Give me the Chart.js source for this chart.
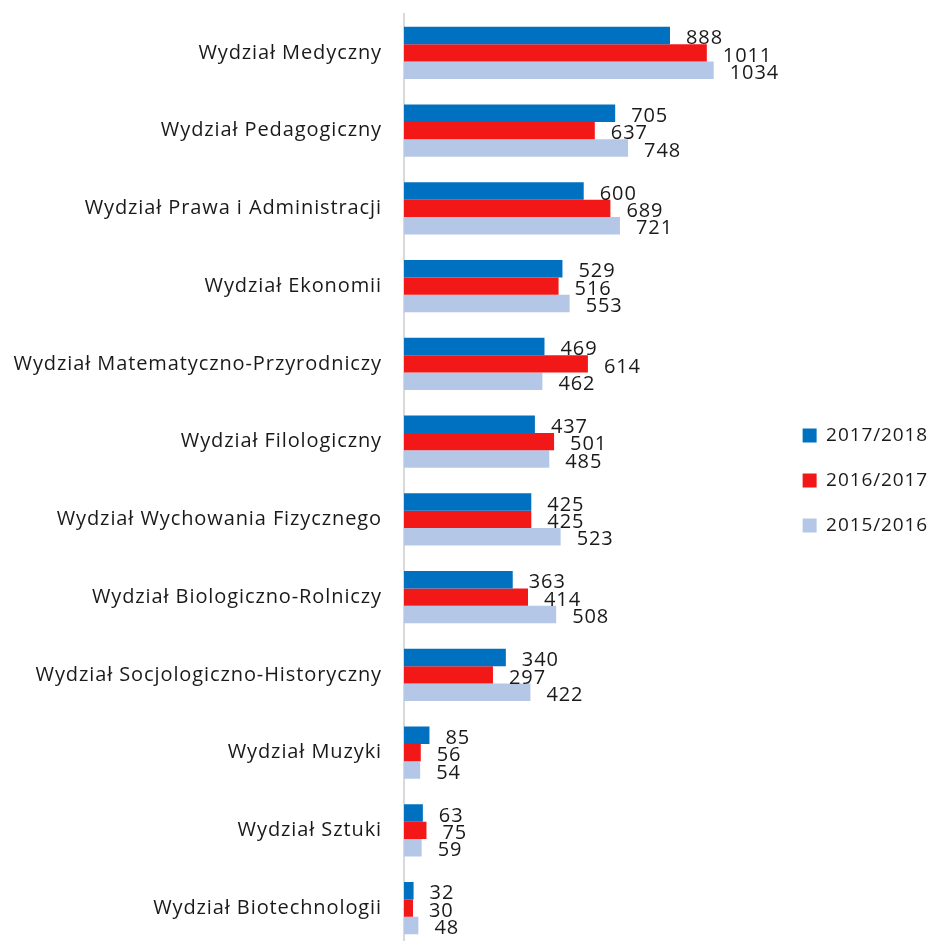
<!DOCTYPE html>
<html>
<head>
<meta charset="utf-8">
<script src="https://cdn.jsdelivr.net/npm/chart.js@4"></script>
<style>
  html, body { margin: 0; padding: 0; background: #fff; overflow: hidden; }
  #wrap { position: relative; width: 930px; height: 947px; }
</style>
</head>
<body>
<div id="wrap"><canvas id="chart"></canvas></div>
<script>
// Faculties and yearly counts
const faculties = [
  'Wydział Medyczny',
  'Wydział Pedagogiczny',
  'Wydział Prawa i Administracji',
  'Wydział Ekonomii',
  'Wydział Matematyczno-Przyrodniczy',
  'Wydział Filologiczny',
  'Wydział Wychowania Fizycznego',
  'Wydział Biologiczno-Rolniczy',
  'Wydział Socjologiczno-Historyczny',
  'Wydział Muzyki',
  'Wydział Sztuki',
  'Wydział Biotechnologii'
];
const years = ['2017/2018', '2016/2017', '2015/2016'];
const values2017 = [888, 705, 600, 529, 469, 437, 425, 363, 340, 85, 63, 32];
const values2016 = [1011, 637, 689, 516, 614, 501, 425, 414, 297, 56, 75, 30];
const values2015 = [1034, 748, 721, 553, 462, 485, 523, 508, 422, 54, 59, 48];
const colors = ['#0070c0', '#f21818', '#b4c7e7'];

const FONT = '"Open Sans", "DejaVu Sans", sans-serif';

// slightly looser letter spacing for all canvas text
const spacing = {
  id: 'spacing',
  beforeDraw(chart) { chart.ctx.letterSpacing = '0.9px'; }
};

// value labels to the right of each bar
const valueLabels = {
  id: 'valueLabels',
  afterDatasetsDraw(chart) {
    const ctx = chart.ctx;
    ctx.save();
    ctx.font = '20px ' + FONT;
    ctx.fillStyle = '#1a1a1a';
    ctx.textAlign = 'left';
    ctx.textBaseline = 'middle';
    chart.data.datasets.forEach((ds, i) => {
      chart.getDatasetMeta(i).data.forEach((bar, j) => {
        ctx.fillText(ds.data[j], bar.x + 16, bar.y + 3);
      });
    });
    ctx.restore();
  }
};

const seriesData = [values2017, values2016, values2015];

new Chart(document.getElementById('chart'), {
  type: 'bar',
  data: {
    labels: faculties,
    datasets: years.map((y, i) => ({
      label: y,
      data: seriesData[i],
      backgroundColor: colors[i],
      borderWidth: 0,
      categoryPercentage: 0.67,
      barPercentage: 1.0
    }))
  },
  options: {
    indexAxis: 'y',
    responsive: true,
    maintainAspectRatio: false,
    animation: false,
    layout: { padding: { top: 14, bottom: 0, left: 0, right: 0 } },
    scales: {
      x: {
        display: false,
        min: 0,
        max: 1244
      },
      y: {
        grid: { display: false, drawTicks: false },
        border: { display: true, color: '#d9d9d9', width: 2 },
        ticks: {
          padding: 22,
          color: '#1a1a1a',
          font: { family: FONT, size: 20 }
        },
        afterFit(scale) {
          scale.width = 404;
          scale.paddingTop = 0;
          scale.paddingBottom = 0;
        }
      }
    },
    plugins: {
      legend: {
        position: 'right',
        labels: {
          boxWidth: 14,
          boxHeight: 14,
          padding: 26,
          color: '#1a1a1a',
          font: { family: FONT, size: 19 }
        }
      },
      tooltip: { enabled: false }
    }
  },
  plugins: [spacing, valueLabels]
});
</script>
</body>
</html>
